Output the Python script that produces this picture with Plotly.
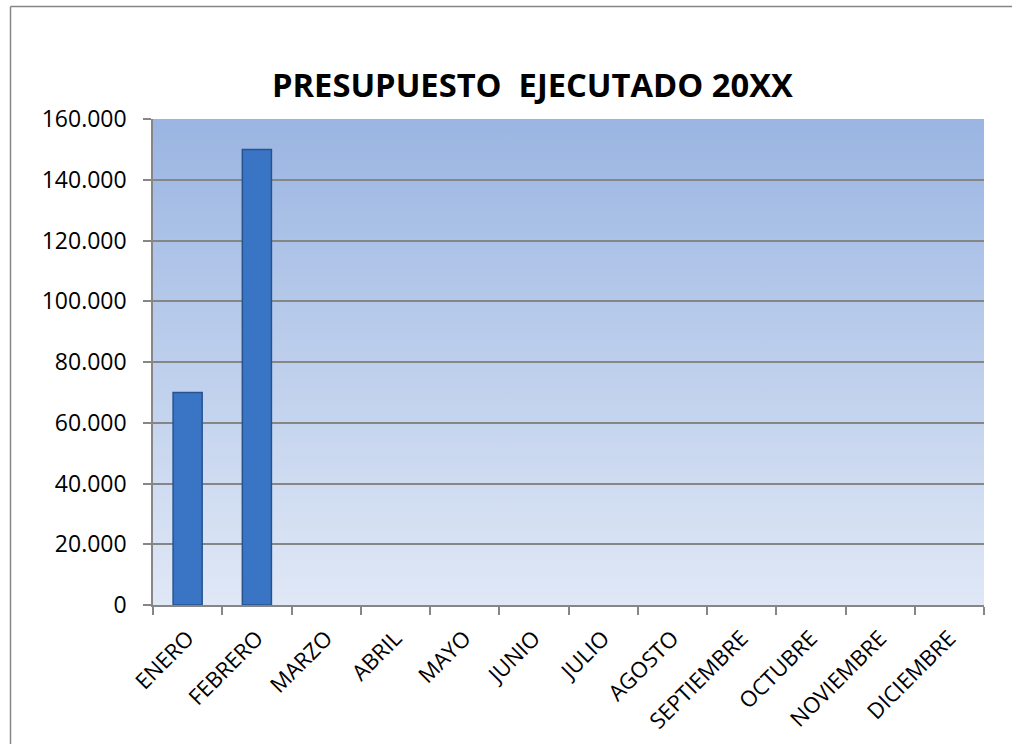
import plotly.graph_objects as go
import base64

months = ["ENERO", "FEBRERO", "MARZO", "ABRIL", "MAYO", "JUNIO", "JULIO",
          "AGOSTO", "SEPTIEMBRE", "OCTUBRE", "NOVIEMBRE", "DICIEMBRE"]
values = [70000, 150000, None, None, None, None, None, None, None, None, None, None]
y_ticks = [0, 20000, 40000, 60000, 80000, 100000, 120000, 140000, 160000]
title_text = "PRESUPUESTO  EJECUTADO 20XX"

W, H = 1012, 744
L, R, T, B = 153, 984, 119, 605
pw, ph = R - L, B - T

svg = ('<svg xmlns="http://www.w3.org/2000/svg" width="100" height="100" preserveAspectRatio="none">'
       '<defs><linearGradient id="g" x1="0" y1="0" x2="0" y2="1">'
       '<stop offset="0" stop-color="#9AB5E2"/><stop offset="1" stop-color="#E0E8F6"/>'
       '</linearGradient></defs><rect width="100" height="100" fill="url(#g)"/></svg>')
bg_uri = "data:image/svg+xml;base64," + base64.b64encode(svg.encode()).decode()

font_family = "Open Sans, Noto Sans, sans-serif"

fig = go.Figure()
fig.add_trace(go.Bar(
    x=months, y=values,
    marker=dict(color="#3A74C4", line=dict(color="#27538F", width=1.5)),
    width=0.42,
    hoverinfo="x+y",
))

fig.update_layout(
    width=W, height=H,
    margin=dict(l=L, r=W - R, t=T, b=H - B, pad=0, autoexpand=False),
    paper_bgcolor="white",
    plot_bgcolor="rgba(0,0,0,0)",
    separators=",.",
    showlegend=False,
    font=dict(family=font_family, color="#000000", size=20),
    images=[dict(source=bg_uri, xref="paper", yref="paper", x=0, y=1,
                 sizex=1, sizey=1, sizing="stretch", layer="below",
                 xanchor="left", yanchor="top")],
    annotations=[dict(text="<b>" + title_text + "</b>", xref="paper", yref="paper",
                      x=(532 - L) / pw, y=1 + (T - 84) / ph, xanchor="center", yanchor="middle",
                      showarrow=False, font=dict(size=32.7, family=font_family, color="#000"))],
    shapes=[
        dict(type="line", xref="paper", yref="paper",
             x0=(10.5 - L) / pw, x1=(W - L) / pw,
             y0=1 + (T - 6.5) / ph, y1=1 + (T - 6.5) / ph,
             line=dict(color="#868686", width=1.5)),
        dict(type="line", xref="paper", yref="paper",
             x0=(10.5 - L) / pw, x1=(10.5 - L) / pw,
             y0=1 + (T - 6.5) / ph, y1=-(H - B) / ph,
             line=dict(color="#868686", width=1.5)),
    ],
)

fig.update_xaxes(
    type="category", tickangle=-45, tickson="boundaries", automargin=False,
    ticks="outside", ticklen=8, tickcolor="#868686", tickwidth=1.5,
    ticklabelstandoff=10,
    showline=True, linecolor="#868686", linewidth=1.5,
    showgrid=False, tickfont=dict(size=22, family=font_family),
)
fig.update_yaxes(
    range=[0, 160000], tickvals=y_ticks, tickformat=",d", automargin=False,
    ticks="outside", ticklen=8, tickcolor="#868686", tickwidth=1.5,
    ticklabelstandoff=12,
    showline=True, linecolor="#868686", linewidth=1.5,
    showgrid=True, gridcolor="#868686", gridwidth=1.5,
    zeroline=False, tickfont=dict(size=23, family=font_family),
)

fig.write_html("out.html", config={"displayModeBar": False},
               post_script="document.body.style.margin='0';document.body.style.overflow='hidden';")
